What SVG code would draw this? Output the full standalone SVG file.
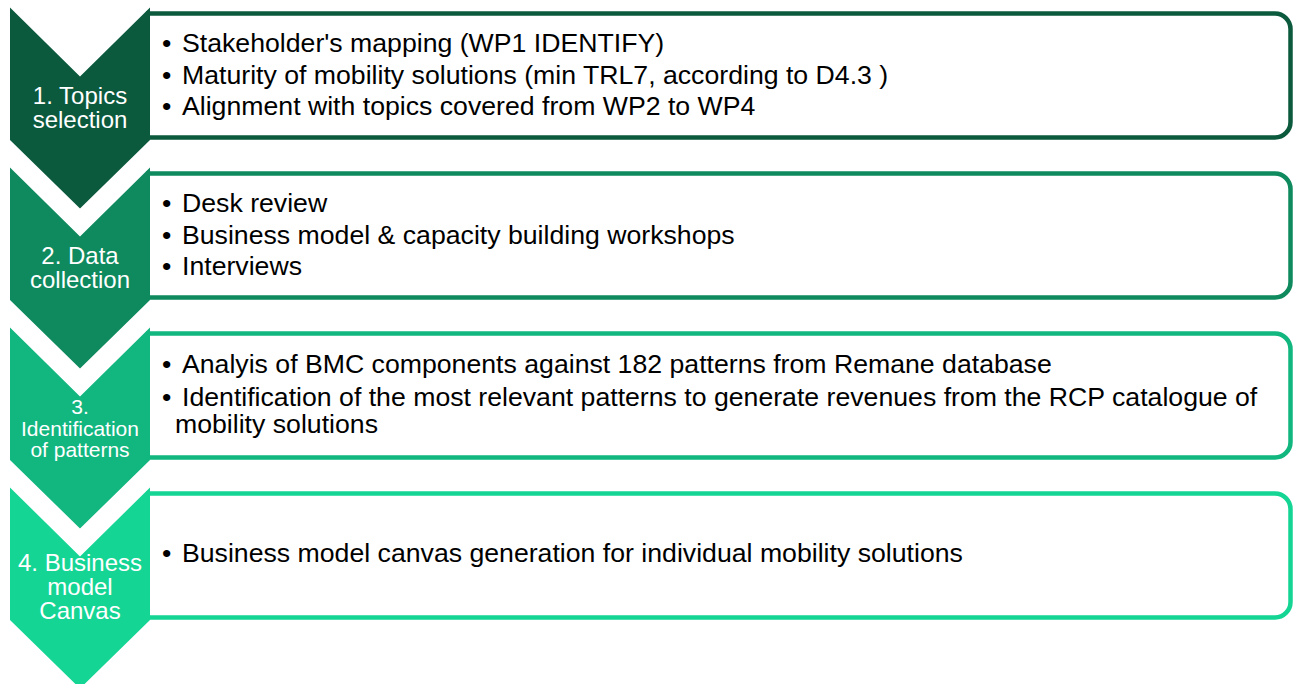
<svg xmlns="http://www.w3.org/2000/svg" width="1293" height="684" viewBox="0 0 1293 684">
<style>
.box{fill:#fff;stroke-width:4.5}
.lbl{font-family:"Liberation Sans",Arial,sans-serif;font-size:24px;fill:#fff;text-anchor:middle}
.bul{font-family:"Liberation Sans",Arial,sans-serif;font-size:26.67px;fill:#000}
.c1{fill:#0C5A3E}.s1{stroke:#0C5A3E}
.c2{fill:#0E8A5E}.s2{stroke:#0E8A5E}
.c3{fill:#12B67F}.s3{stroke:#12B67F}
.c4{fill:#15D595}.s4{stroke:#15D595}
</style>
<rect width="1293" height="684" fill="#fff"/>
<g id="connectors"/>
<g id="step1">
<path class="box s1" d="M146,13.5 H1275 A15.5,15.5 0 0 1 1290.5,29 V122 A15.5,15.5 0 0 1 1275,137.5 H146"/>
<polygon class="c1" points="10,7.5 80,76.5 150,7.5 150,140 80,208.5 10,140"/>
<text class="lbl"><tspan x="80" y="104">1. Topics</tspan><tspan x="80" y="128">selection</tspan></text>
<text class="bul"><tspan x="162" y="52">•</tspan><tspan x="182" y="52">Stakeholder's mapping (WP1 IDENTIFY)</tspan><tspan x="162" y="83.5">•</tspan><tspan x="182" y="83.5">Maturity of mobility solutions (min TRL7, according to D4.3 )</tspan><tspan x="162" y="115">•</tspan><tspan x="182" y="115">Alignment with topics covered from WP2 to WP4</tspan></text>
</g>
<g id="step2">
<path class="box s2" d="M146,173.5 H1275 A15.5,15.5 0 0 1 1290.5,189 V282 A15.5,15.5 0 0 1 1275,297.5 H146"/>
<polygon class="c2" points="10,167.5 80,236.5 150,167.5 150,300 80,368.5 10,300"/>
<text class="lbl"><tspan x="80" y="264">2. Data</tspan><tspan x="80" y="288">collection</tspan></text>
<text class="bul"><tspan x="162" y="212">•</tspan><tspan x="182" y="212">Desk review</tspan><tspan x="162" y="243.5">•</tspan><tspan x="182" y="243.5">Business model &amp; capacity building workshops</tspan><tspan x="162" y="275">•</tspan><tspan x="182" y="275">Interviews</tspan></text>
</g>
<g id="step3">
<path class="box s3" d="M146,333.5 H1275 A15.5,15.5 0 0 1 1290.5,349 V442 A15.5,15.5 0 0 1 1275,457.5 H146"/>
<polygon class="c3" points="10,327.5 80,396.5 150,327.5 150,460 80,528.5 10,460"/>
<text class="lbl" style="font-size:21px"><tspan x="80" y="413.5">3.</tspan><tspan x="80" y="435.5">Identification</tspan><tspan x="80" y="456.5">of patterns</tspan></text>
<text class="bul"><tspan x="162" y="373">•</tspan><tspan x="182" y="373">Analyis of BMC components against 182 patterns from Remane database</tspan><tspan x="162" y="405.5">•</tspan><tspan x="182" y="405.5">Identification of the most relevant patterns to generate revenues from the RCP catalogue of</tspan><tspan x="175" y="433">mobility solutions</tspan></text>
</g>
<g id="step4">
<path class="box s4" d="M146,493.5 H1275 A15.5,15.5 0 0 1 1290.5,509 V602 A15.5,15.5 0 0 1 1275,617.5 H146"/>
<polygon class="c4" points="10,487.5 80,556.5 150,487.5 150,620 80,688.5 10,620"/>
<text class="lbl"><tspan x="80" y="571">4. Business</tspan><tspan x="80" y="595">model</tspan><tspan x="80" y="619">Canvas</tspan></text>
<text class="bul"><tspan x="162" y="562">•</tspan><tspan x="182" y="562">Business model canvas generation for individual mobility solutions</tspan></text>
</g>
</svg>
